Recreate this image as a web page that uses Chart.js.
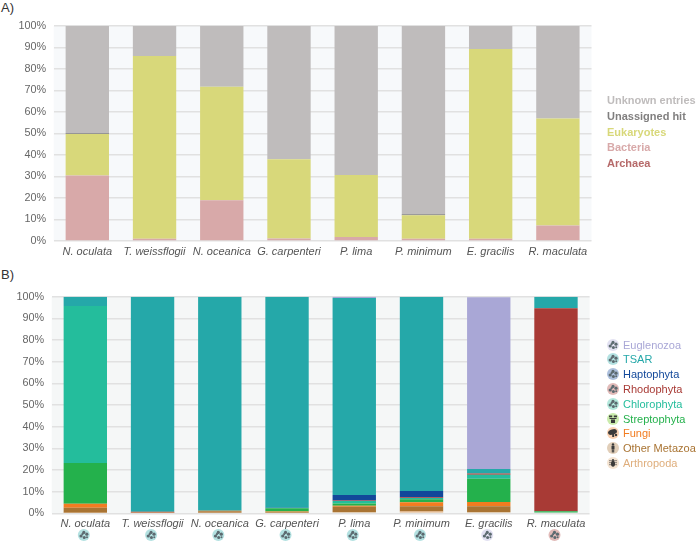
<!DOCTYPE html>
<html>
<head>
<meta charset="utf-8">
<style>
  html, body { margin: 0; padding: 0; background: #fff; }
  body { position: relative; width: 696px; height: 542px; overflow: hidden; font-family: "Liberation Sans", Arial, sans-serif; }
  canvas.plot { position: absolute; left: 0; }
  .panel-title { position: absolute; left: 1px; font-size: 13px; color: #333; line-height: 14px; }
  .legend-a { position: absolute; left: 607px; font-size: 11px; font-weight: bold; line-height: 14px; white-space: nowrap; }
  .legend-b { position: absolute; left: 623px; font-size: 11px; line-height: 14px; white-space: nowrap; }
  canvas.legend-icon { position: absolute; left: 606px; width: 14px; height: 14px; }
</style>
<script src="https://cdn.jsdelivr.net/npm/chart.js@4"></script>
</head>
<body>
<div class="panel-title" style="top:1px">A)</div>
<div class="panel-title" style="top:268px">B)</div>
<canvas class="plot" id="chart-a" width="696" height="270" style="top:0;width:696px;height:270px"></canvas>
<canvas class="plot" id="chart-b" width="696" height="272" style="top:270px;width:696px;height:272px"></canvas>
<script>
const species = ['N. oculata', 'T. weissflogii', 'N. oceanica', 'G. carpenteri', 'P. lima', 'P. minimum', 'E. gracilis', 'R. maculata'];
const yTicks = [0, 10, 20, 30, 40, 50, 60, 70, 80, 90, 100];

// panel A, bottom of the stack first
const archaea = [0, 0, 0, 0, 0, 0, 0, 0];
const bacteria = [30.5, 1, 19, 1.2, 1.9, 1, 1, 7.2];
const eukaryotes = [19.3, 85, 52.8, 36.8, 28.8, 11, 88.3, 49.8];
const unassignedHit = [0.3, 0, 0, 0, 0, 0.4, 0, 0];
const unknownEntries = [49.9, 14, 28.2, 62, 69.3, 87.6, 10.7, 43];

// panel B, bottom of the stack first
const arthropoda = [0.3, 0.1, 0.3, 0.3, 0.5, 1, 0.5, 0];
const otherMetazoa = [2.3, 0.1, 0.7, 0.3, 2.5, 2.3, 2.8, 0];
const fungi = [1.8, 0, 0.2, 0.2, 0.5, 1.8, 1.9, 0];
const streptophyta = [18.8, 0, 0, 1.5, 1, 1.4, 10.8, 1];
const chlorophyta = [72.5, 0, 0, 0.1, 1.2, 0.6, 1.8, 0];
const rhodophyta = [0, 0.5, 0, 0, 0.2, 0.3, 0.6, 93.7];
const haptophyta = [0, 0, 0, 0.2, 2.6, 2.9, 0, 0];
const tsar = [4.3, 99.3, 98.8, 97.4, 90.9, 89.7, 2, 5.3];
const euglenozoa = [0, 0, 0, 0, 0.6, 0, 79.4, 0];

const seriesA = [
  { label: 'Archaea', data: archaea, color: '#b66a6a' },
  { label: 'Bacteria', data: bacteria, color: '#d8a9a9' },
  { label: 'Eukaryotes', data: eukaryotes, color: '#d8d87a' },
  { label: 'Unassigned hit', data: unassignedHit, color: '#807f7f' },
  { label: 'Unknown entries', data: unknownEntries, color: '#bfbcbc' }
];
const seriesB = [
  { label: 'Arthropoda', data: arthropoda, color: '#dfae7c', icon: 'bug' },
  { label: 'Other Metazoa', data: otherMetazoa, color: '#a97433', icon: 'person' },
  { label: 'Fungi', data: fungi, color: '#f27c20', icon: 'mushroom' },
  { label: 'Streptophyta', data: streptophyta, color: '#24b14c', icon: 'plant' },
  { label: 'Chlorophyta', data: chlorophyta, color: '#24bd9c', icon: 'microbe' },
  { label: 'Rhodophyta', data: rhodophyta, color: '#a83a35', icon: 'microbe' },
  { label: 'Haptophyta', data: haptophyta, color: '#12489a', icon: 'microbe' },
  { label: 'TSAR', data: tsar, color: '#25a8a9', icon: 'microbe' },
  { label: 'Euglenozoa', data: euglenozoa, color: '#a9a7d6', icon: 'microbe' }
];
// which group each species belongs to (icon under its label)
const speciesGroup = ['TSAR', 'TSAR', 'TSAR', 'TSAR', 'TSAR', 'TSAR', 'Euglenozoa', 'Rhodophyta'];

const legendRowsA = [163.3, 147.3, 131.7, 116, 100];
const legendRowsB = [463, 448, 433.3, 418.7, 404, 389, 374.3, 359.3, 345];

function hexToRgba(hex, alpha) {
  const n = parseInt(hex.slice(1), 16);
  return `rgba(${n >> 16}, ${(n >> 8) & 255}, ${n & 255}, ${alpha})`;
}

function drawIcon(ctx, x, y, kind, color) {
  ctx.save();
  ctx.fillStyle = kind === 'plant' ? 'rgba(150, 215, 90, 0.5)' : hexToRgba(color, 0.35);
  ctx.beginPath();
  ctx.arc(x, y, 6, 0, Math.PI * 2);
  ctx.fill();
  ctx.fillStyle = kind === 'microbe' ? '#5c6a70' : '#3a3a3a';
  const dot = (dx, dy, r) => {
    ctx.beginPath();
    ctx.arc(x + dx, y + dy, r, 0, Math.PI * 2);
    ctx.fill();
  };
  if (kind === 'microbe') {
    dot(-2.8, 1, 1.6); dot(0, -2.6, 1.6); dot(3, -0.8, 1.6); dot(0.4, 2.4, 1.5); dot(-1.4, -0.8, 1.1); dot(3.2, 2.2, 1);
  } else if (kind === 'plant') {
    ctx.fillRect(x - 2, y + 0.5, 4, 3.5);
    ctx.fillRect(x - 4, y - 3.5, 3.2, 1.8);
    ctx.fillRect(x + 0.8, y - 3.5, 3.2, 1.8);
    ctx.fillRect(x - 3.5, y - 1, 7, 1);
  } else if (kind === 'mushroom') {
    ctx.beginPath();
    ctx.ellipse(x - 0.5, y - 1, 4.6, 2.6, -0.3, 0, Math.PI * 2);
    ctx.fill();
    ctx.fillRect(x - 0.8, y, 2, 4);
    dot(3, 2, 1.2);
  } else if (kind === 'person') {
    dot(0, -3.6, 1.2);
    ctx.fillRect(x - 1.5, y - 2.3, 3, 3.6);
    ctx.fillRect(x - 1.2, y + 1.3, 1, 3.2);
    ctx.fillRect(x + 0.2, y + 1.3, 1, 3.2);
  } else {
    dot(0, -3, 1);
    ctx.beginPath();
    ctx.ellipse(x, y + 0.8, 2, 3, 0, 0, Math.PI * 2);
    ctx.fill();
    ctx.strokeStyle = '#3a3a3a';
    ctx.lineWidth = 0.6;
    [-1.5, 0.5, 2.5].forEach((dy) => {
      ctx.beginPath();
      ctx.moveTo(x - 4, y + dy - 0.8);
      ctx.lineTo(x + 4, y + dy - 0.8);
      ctx.stroke();
    });
  }
  ctx.restore();
}

const plotBackground = {
  id: 'plotBackground',
  beforeDraw(chart, args, options) {
    const { ctx, chartArea } = chart;
    ctx.save();
    ctx.fillStyle = options.color;
    ctx.fillRect(chartArea.left, chartArea.top, chartArea.width, chartArea.height);
    ctx.restore();
  }
};

const speciesIcons = {
  id: 'speciesIcons',
  afterDraw(chart) {
    const xScale = chart.scales.x;
    species.forEach((name, i) => {
      const group = seriesB.find((item) => item.label === speciesGroup[i]);
      drawIcon(chart.ctx, xScale.getPixelForTick(i) - 1.5, 265, group.icon, group.color);
    });
  }
};

function buildChart(id, series, layout, plugins) {
  return new Chart(document.getElementById(id), {
    type: 'bar',
    data: {
      labels: species,
      datasets: series.map((item) => ({
        label: item.label,
        data: item.data,
        backgroundColor: item.color,
        borderWidth: 0,
        categoryPercentage: 1,
        barPercentage: 0.645
      }))
    },
    options: {
      responsive: false,
      animation: false,
      layout: { padding: { left: 0, top: layout.top, right: layout.right, bottom: 0 } },
      plugins: {
        legend: { display: false },
        tooltip: { enabled: false },
        plotBackground: { color: layout.background }
      },
      scales: {
        x: {
          stacked: true,
          grid: { display: false, drawTicks: false },
          border: { display: false },
          afterFit(scale) { scale.height = layout.axisHeight; },
          ticks: {
            color: '#555',
            padding: 4,
            maxRotation: 0,
            autoSkip: false,
            font: { family: '"Liberation Sans"', size: 11, style: 'italic' }
          }
        },
        y: {
          stacked: true,
          min: 0,
          max: 100,
          afterFit(scale) { scale.width = layout.axisWidth; },
          afterBuildTicks(scale) { scale.ticks = yTicks.map((value) => ({ value })); },
          grid: { color: '#e1e1e1', lineWidth: 1.4, drawTicks: false },
          border: { display: false },
          ticks: {
            color: '#666',
            padding: 7.5,
            font: { family: '"Liberation Sans"', size: 10.8 },
            callback(value) { return value + '%'; }
          }
        }
      }
    },
    plugins: [plotBackground].concat(plugins)
  });
}

function addLegends() {
  seriesA.forEach((item, i) => {
    const row = document.createElement('div');
    row.className = 'legend-a';
    row.textContent = item.label;
    row.style.color = item.color;
    row.style.top = (legendRowsA[i] - 7) + 'px';
    document.body.appendChild(row);
  });
  seriesB.forEach((item, i) => {
    const row = document.createElement('div');
    row.className = 'legend-b';
    row.textContent = item.label;
    row.style.color = item.color;
    row.style.top = (legendRowsB[i] - 7) + 'px';
    document.body.appendChild(row);

    const icon = document.createElement('canvas');
    icon.className = 'legend-icon';
    icon.width = 14;
    icon.height = 14;
    icon.style.top = (legendRowsB[i] - 7) + 'px';
    document.body.appendChild(icon);
    drawIcon(icon.getContext('2d'), 7, 7, item.icon, item.color);
  });
}

buildChart('chart-a', seriesA, { top: 26, right: 104.5, axisWidth: 53.7, axisHeight: 29, background: '#f7f9fb' }, []);
buildChart('chart-b', seriesB, { top: 26.7, right: 106.4, axisWidth: 51.7, axisHeight: 28.7, background: '#f5f7f7' }, [speciesIcons]);
addLegends();
</script>
</body>
</html>
